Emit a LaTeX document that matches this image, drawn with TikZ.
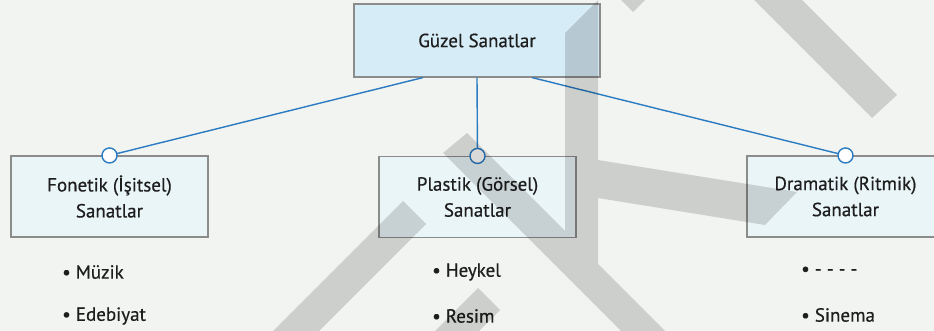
\documentclass[tikz,border=0pt]{standalone}
\usepackage{fontspec}
\setmainfont{PT Sans}[FakeBold=0.5]
\usetikzlibrary{positioning}
\definecolor{bgpaper}{HTML}{F1F4F1}
\definecolor{linkblue}{HTML}{2A7BC1}
\definecolor{boxedge}{HTML}{8C8C8C}
\definecolor{topfill}{HTML}{D6ECF6}
\definecolor{subfill}{HTML}{EAF5F7}
\definecolor{inktext}{HTML}{1E1E1E}
\tikzset{
  artbox/.style={draw=boxedge, line width=1.1pt, fill=subfill, minimum width=197pt,
    minimum height=81pt, align=center, text=inktext, inner sep=0pt,
    font=\fontsize{19}{26}\selectfont},
  rootbox/.style={artbox, fill=topfill, minimum width=246pt, minimum height=73pt},
  joint/.style={circle, draw=linkblue, line width=1.4pt, fill=white, minimum size=15pt, inner sep=0pt},
  link/.style={draw=linkblue, line width=1.4pt},
  item/.style={anchor=west, text=inktext, inner sep=0pt, font=\fontsize{19}{22}\selectfont},
  wmark/.style={fill=black, fill opacity=0.15}
}

\begin{document}
\begin{tikzpicture}[x=1pt,y=-1pt]
 \fill[bgpaper] (0,0) rectangle (934,331);
 \useasboundingbox (0,0) rectangle (934,331);
 % boxes
 \node[rootbox] (guzel) at (477,40.5) {Güzel Sanatlar};
 \node[artbox] (fonetik) at (109.5,196.5) {Fonetik (İşitsel)\\Sanatlar};
 \node[artbox] (plastik) at (477.5,197) {Plastik (Görsel)\\Sanatlar};
 \node[artbox] (dramatik) at (845.5,196.5) {Dramatik (Ritmik)\\Sanatlar};
 % links
 \draw[link] ([xshift=-54pt]guzel.south) -- (fonetik.north);
 \draw[link] (guzel.south) -- (plastik.north);
 \draw[link] ([xshift=55pt]guzel.south) -- (dramatik.north);
 \node[joint] (fonJ) at (fonetik.north) {};
 \node[joint] (plaJ) at (plastik.north) {};
 \node[joint] (draJ) at (dramatik.north) {};
 % items
 \node[item] (muzik) at (62,272) {• Müzik};
 \node[item] (edebiyat) at (62,316) {• Edebiyat};
 \node[item] (heykel) at (432,272) {• Heykel};
 \node[item] (resim) at (432,316) {• Resim};
 \node[item] (bos) at (801,271) {• - - - -};
 \node[item] (sinema) at (801,315) {• Sinema};
 % watermark
 \fill[wmark] (443,153) -- (467,133) -- (565,231) -- (565,33) -- (598,0) -- (598,160)
   -- (797,192) -- (765,225) -- (598,198) -- (598,264) -- (665,331) -- (621,331) -- cycle;
 \fill[wmark] (754,0) -- (802,0) -- (897,95) -- (872,118) -- cycle;
 \fill[wmark] (621,0) -- (645,0) -- (633,12) -- cycle;
 \fill[wmark] (273,331) -- (403,201) -- (426,224) -- (319,331) -- cycle;
 \fill[wmark] (435,331) -- (478,288) -- (500,310) -- (479,331) -- cycle;
\end{tikzpicture}
\end{document}
